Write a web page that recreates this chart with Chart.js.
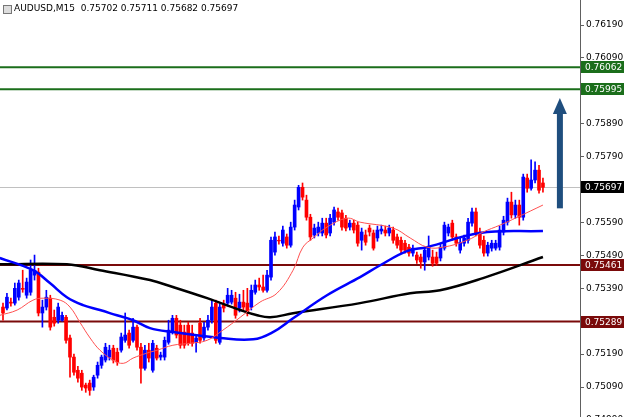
<!DOCTYPE html>
<html><head><meta charset="utf-8">
<script src="https://cdn.jsdelivr.net/npm/chart.js@4"></script>
<style>html,body{margin:0;padding:0;background:#fff;overflow:hidden}
#wrap{position:relative;width:624px;height:417px}
#title{position:absolute;left:14px;top:3px;font:9px "DejaVu Sans",sans-serif;color:#000;white-space:pre}
#ico{position:absolute;left:3px;top:5px;width:7px;height:7px;border:1px solid #777;background:#ddd}
</style></head><body>
<div id="wrap"><canvas id="c" width="624" height="417"></canvas>
<div id="ico"></div><div id="title">AUDUSD,M15  0.75702 0.75711 0.75682 0.75697</div></div>
<script>
// prices in units of 0.00001
const opens  =[75333,75330,75348,75345,75363,75390,75369,75378,75430,75439,75315,75333,75360,75302,75293,75293,75302,75239,75181,75141,75132,75096,75102,75090,75126,75156,75172,75181,75208,75196,75202,75232,75254,75232,75272,75211,75147,75202,75141,75208,75181,75181,75226,75257,75299,75278,75257,75278,75254,75226,75284,75239,75272,75293,75345,75226,75339,75345,75348,75360,75330,75348,75345,75333,75378,75400,75394,75384,75424,75500,75536,75527,75546,75521,75576,75637,75697,75658,75606,75552,75558,75558,75588,75558,75591,75622,75619,75603,75576,75588,75582,75536,75552,75573,75558,75543,75564,75567,75558,75567,75546,75536,75527,75515,75497,75491,75485,75470,75485,75485,75485,75482,75512,75558,75588,75546,75506,75527,75536,75588,75622,75561,75536,75497,75512,75512,75515,75561,75591,75652,75613,75643,75606,75725,75694,75719,75749,75710];
const closes =[75315,75363,75345,75390,75406,75387,75409,75445,75445,75315,75333,75363,75272,75284,75333,75308,75232,75181,75135,75117,75090,75087,75080,75120,75156,75181,75211,75202,75172,75166,75242,75248,75217,75272,75211,75147,75202,75178,75223,75178,75187,75232,75263,75299,75248,75217,75217,75223,75223,75239,75232,75272,75293,75333,75232,75333,75330,75369,75369,75308,75348,75333,75315,75384,75400,75394,75384,75430,75536,75546,75534,75567,75521,75576,75643,75697,75667,75606,75546,75573,75576,75588,75552,75603,75628,75606,75576,75573,75588,75567,75527,75561,75530,75561,75512,75567,75570,75558,75573,75536,75521,75506,75506,75497,75512,75476,75470,75506,75515,75466,75466,75515,75582,75576,75546,75527,75530,75543,75591,75622,75558,75521,75497,75521,75527,75527,75567,75597,75652,75613,75643,75606,75728,75694,75719,75749,75688,75697];
const highs  =[75345,75375,75360,75406,75415,75445,75421,75476,75491,75451,75354,75384,75369,75324,75345,75318,75308,75248,75190,75153,75141,75102,75111,75126,75166,75187,75223,75217,75217,75208,75254,75315,75263,75299,75278,75223,75217,75223,75232,75217,75196,75242,75293,75308,75308,75293,75278,75287,75278,75248,75299,75287,75308,75354,75354,75342,75354,75390,75384,75378,75372,75384,75390,75400,75415,75421,75430,75445,75546,75561,75549,75579,75555,75591,75658,75703,75710,75673,75615,75585,75591,75603,75603,75615,75637,75634,75628,75612,75597,75597,75591,75573,75567,75582,75567,75579,75582,75579,75582,75576,75555,75546,75536,75524,75521,75500,75494,75515,75549,75506,75500,75527,75591,75585,75597,75555,75543,75552,75603,75634,75634,75573,75549,75530,75536,75536,75579,75609,75664,75682,75658,75658,75737,75737,75780,75774,75764,75725];
const lows   =[75293,75324,75336,75339,75354,75378,75360,75369,75415,75306,75272,75324,75263,75275,75284,75290,75223,75120,75126,75105,75080,75074,75065,75080,75117,75147,75166,75172,75163,75156,75196,75226,75208,75226,75202,75102,75141,75166,75135,75172,75172,75172,75220,75251,75239,75208,75208,75217,75214,75196,75223,75232,75263,75284,75223,75220,75318,75336,75342,75299,75318,75324,75306,75324,75372,75384,75378,75378,75415,75491,75524,75518,75512,75515,75567,75628,75658,75597,75536,75543,75549,75549,75543,75549,75582,75597,75567,75564,75567,75558,75518,75506,75521,75549,75506,75533,75555,75549,75549,75527,75512,75497,75497,75488,75488,75466,75451,75445,75476,75457,75460,75473,75506,75549,75536,75518,75497,75518,75527,75579,75549,75512,75488,75488,75503,75506,75506,75552,75582,75603,75603,75582,75597,75682,75688,75710,75679,75682];
// moving averages: candle index and value
const redMaIdx =[-0.8,3.6,7.6,10.2,14.5,17,19.5,22.1,24.6,27.9,30.5,33,36.5,39.1,43.1,47.5,51.8,55.8,60.2,65.2,69.5,73.6,76.1,78.7,82.2,87.3,90.6,99,103.3,107.6,111.7,117.8,121.8,126.1,130.5,137];
const redMaVal =[75308,75324,75354,75360,75354,75333,75287,75239,75202,75172,75162,75178,75193,75202,75217,75223,75232,75263,75302,75348,75375,75445,75515,75543,75576,75603,75591,75573,75543,75515,75515,75536,75561,75582,75606,75643];
const blueMaIdx=[-0.8,7.6,11.9,16.2,20.3,24.6,28.9,33,37.3,43.1,55.1,63.5,68.5,73.6,82.2,90.6,95.7,102.5,107.6,121,137];
const blueMaVal=[75482,75445,75406,75363,75339,75324,75308,75293,75269,75257,75239,75235,75257,75299,75369,75424,75460,75503,75515,75558,75564];
const blackMaIdx=[-0.8,16.2,24.6,37.3,43.1,51.8,60.2,64.5,67.8,73.6,90.6,103.3,110.9,121.8,137];
const blackMaVal=[75463,75463,75445,75415,75394,75360,75324,75308,75302,75314,75345,75375,75384,75421,75485];
const yTicks=[74990,75090,75190,75290,75390,75490,75590,75690,75790,75890,75990,76090,76190];
const levels=[{v:76062,c:'#1b6e1b',t:'#fff'},{v:75995,c:'#1b6e1b',t:'#fff'},{v:75461,c:'#7a0a0a',t:'#fff'},{v:75289,c:'#7a0a0a',t:'#fff'}];
const lastPrice=75697;
const arrowIdx=141.3, arrowFrom=75633, arrowTo=75968;

const P=v=>v/100000;
const wick=[],body=[],cols=[];
opens.forEach((o,i)=>{const c=closes[i];
  wick.push({x:i,y:[P(lows[i]),P(highs[i])]});
  body.push({x:i,y:[P(Math.min(o,c)),P(Math.max(o,c))]});
  cols.push(c>=o?'#0000ff':'#ff0000');});
const pts=(a,b)=>a.map((x,i)=>({x:x,y:P(b[i])}));

const overlay={id:'ov',
 beforeDatasetsDraw(ch){const {ctx,chartArea:a,scales:{y}}=ch;ctx.save();
  let yy=Math.round(y.getPixelForValue(P(lastPrice)))+0.5;
  ctx.strokeStyle='#c0c0c0';ctx.lineWidth=1;ctx.beginPath();ctx.moveTo(a.left,yy);ctx.lineTo(a.right,yy);ctx.stroke();
  levels.forEach(l=>{const py=y.getPixelForValue(P(l.v));ctx.strokeStyle=l.c;ctx.lineWidth=2;ctx.beginPath();ctx.moveTo(a.left,py);ctx.lineTo(a.right,py);ctx.stroke();});
  ctx.restore();},
 afterDraw(ch){const {ctx,chartArea:a,scales:{x,y}}=ch;ctx.save();
  const ax=x.getPixelForValue(arrowIdx),y0=y.getPixelForValue(P(arrowFrom)),y1=y.getPixelForValue(P(arrowTo));
  ctx.fillStyle='#1f4e7e';ctx.fillRect(ax-3,y1+14,6,y0-y1-14);
  ctx.beginPath();ctx.moveTo(ax,y1);ctx.lineTo(ax-7,y1+16);ctx.lineTo(ax+7,y1+16);ctx.closePath();ctx.fill();
  ctx.font='9px "DejaVu Sans",sans-serif';ctx.textBaseline='middle';
  const box=(v,bg,fg)=>{const py=Math.round(y.getPixelForValue(P(v)));ctx.fillStyle=bg;ctx.fillRect(a.right+1,py-6,43,12);
   ctx.fillStyle=fg;ctx.fillText((v/100000).toFixed(5),a.right+5,py+0.5);};
  levels.forEach(l=>box(l.v,l.c,l.t));
  box(lastPrice,'#000','#fff');
  ctx.restore();}};

new Chart(document.getElementById('c'),{
 data:{datasets:[
  {type:'line',data:pts(redMaIdx,redMaVal),borderColor:'#ff5050',borderWidth:1,pointRadius:0,tension:0.4,order:0},
  {type:'line',data:pts(blueMaIdx,blueMaVal),borderColor:'#0000ff',borderWidth:2.5,pointRadius:0,tension:0.4,order:0},
  {type:'line',data:pts(blackMaIdx,blackMaVal),borderColor:'#000',borderWidth:2.5,pointRadius:0,tension:0.4,order:0},
  {type:'bar',data:wick,backgroundColor:cols,barThickness:1,grouped:false,order:2},
  {type:'bar',data:body,backgroundColor:cols,barThickness:3,grouped:false,order:1}]},
 options:{responsive:false,animation:false,events:[],
  layout:{padding:0,autoPadding:false},
  plugins:{legend:{display:false},tooltip:{enabled:false}},
  scales:{
   x:{type:'linear',min:-0.76,max:146.4,display:false,offset:false},
   y:{position:'right',min:0.74999,max:0.76266,
     afterBuildTicks:s=>{s.ticks=yTicks.map(v=>({value:P(v)}));},
     afterFit:s=>{s.width=44;s.paddingTop=0;s.paddingBottom=0;},
     border:{display:true,color:'#606060',width:1},
     grid:{drawOnChartArea:false,tickLength:4,color:'#606060'},
     ticks:{padding:2,color:'#000',font:{family:'DejaVu Sans',size:9},callback:v=>v.toFixed(5)}}}},
 plugins:[overlay]});
</script></body></html>
